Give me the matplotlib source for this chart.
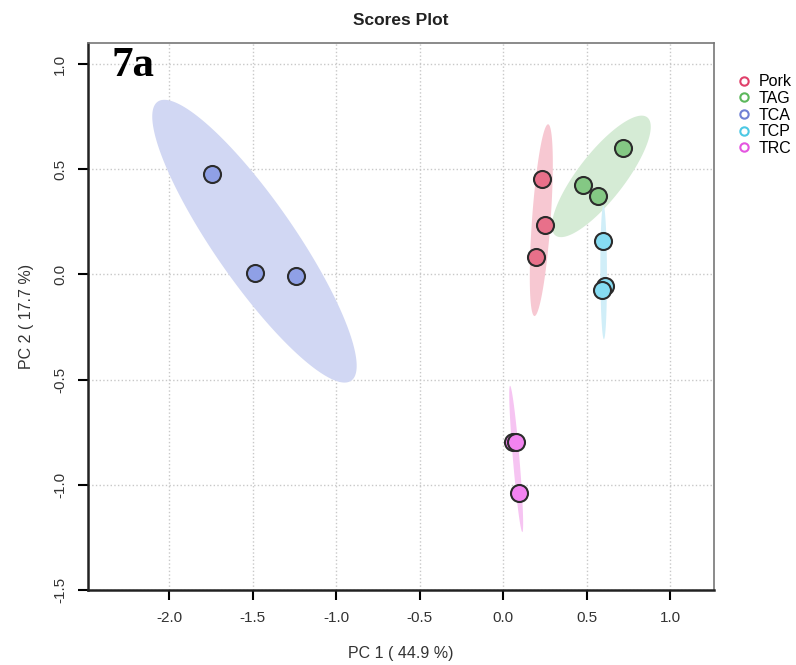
import matplotlib.pyplot as plt
import numpy as np

plt.rcParams['font.family'] = ['Liberation Sans', 'DejaVu Sans']

# Datos de los scores (PC1, PC2) por grupo
groups = ['Pork', 'TAG', 'TCA', 'TCP', 'TRC']
pc1 = {
    'Pork': [0.236, 0.253, 0.198],
    'TAG': [0.717, 0.477, 0.571],
    'TCA': [-1.740, -1.485, -1.240],
    'TCP': [0.601, 0.611, 0.595],
    'TRC': [0.062, 0.078, 0.096],
}
pc2 = {
    'Pork': [0.455, 0.234, 0.085],
    'TAG': [0.599, 0.425, 0.374],
    'TCA': [0.475, 0.005, -0.006],
    'TCP': [0.160, -0.055, -0.074],
    'TRC': [-0.795, -0.795, -1.041],
}
xticks = [-2.0, -1.5, -1.0, -0.5, 0.0, 0.5, 1.0]
yticks = [-1.5, -1.0, -0.5, 0.0, 0.5, 1.0]

point_colors = {'Pork': '#E8708A', 'TAG': '#84C884', 'TCA': '#8FA0E6',
                'TCP': '#86DCF2', 'TRC': '#F283F0'}
legend_colors = {'Pork': '#E0406A', 'TAG': '#5CB85C', 'TCA': '#6F80D4',
                 'TCP': '#4CC8E4', 'TRC': '#E455E0'}
ellipse_colors = {'Pork': '#F7C8D2', 'TAG': '#D5EBD5', 'TCA': '#D1D7F3',
                  'TCP': '#D0EEF8', 'TRC': '#F6C4F2'}

fig = plt.figure(figsize=(7.96, 6.65), dpi=100)
ax = fig.add_axes([88 / 796, 1 - 590 / 665, 626 / 796, 547 / 665])

# elipses de confianza al 95 % a partir de la covarianza de cada grupo
r = np.sqrt(-2 * np.log(0.05))
t = np.linspace(0, 2 * np.pi, 200)
for g in groups:
    pts = np.column_stack([pc1[g], pc2[g]])
    mu = pts.mean(axis=0)
    cov = np.cov(pts, rowvar=False)
    vals, vecs = np.linalg.eigh(cov)
    vals = np.clip(vals, 0, None)
    circ = np.vstack([np.cos(t), np.sin(t)])
    ell = (vecs @ np.diag(np.sqrt(vals)) @ circ) * r
    ax.fill(mu[0] + ell[0], mu[1] + ell[1], color=ellipse_colors[g], lw=0, zorder=1)

for g in groups:
    ax.scatter(pc1[g], pc2[g], s=150, color=point_colors[g], edgecolor='#2b2b2b',
               linewidth=1.5, zorder=3)

ax.set_xlim(-2.485, 1.263)
ax.set_ylim(-1.5, 1.10)
ax.set_xticks(xticks)
ax.set_yticks(yticks)
ax.set_xticklabels([f'{v:.1f}' for v in xticks])
ax.set_yticklabels([f'{v:.1f}' for v in yticks], rotation=90, va='center')
ax.tick_params(axis='both', length=7, width=1.5, labelsize=11, labelcolor='#333333',
               pad=8)
ax.grid(True, linestyle=':', color='#c8c8c8', linewidth=1)
ax.set_axisbelow(True)

for s in ['top', 'right']:
    ax.spines[s].set_color('#777777')
    ax.spines[s].set_linewidth(1.2)
for s in ['left', 'bottom']:
    ax.spines[s].set_color('#222222')
    ax.spines[s].set_linewidth(1.8)

ax.set_xlabel('PC 1 ( 44.9 %)', fontsize=11.5, color='#333333', labelpad=15)
ax.set_ylabel('PC 2 ( 17.7 %)', fontsize=11.5, color='#333333', labelpad=14)
ax.set_title('Scores Plot', fontsize=12.5, fontweight='bold', color='#222222', pad=13)

ax.text(0.038, 0.993, '7a', transform=ax.transAxes, fontsize=31, fontweight='bold',
        family='Liberation Serif', va='top', ha='left', zorder=5)

handles = [plt.Line2D([], [], marker='o', linestyle='', markersize=6,
                      markerfacecolor='none', markeredgecolor=legend_colors[g],
                      markeredgewidth=1.5) for g in groups]
fig.legend(handles, groups, loc='upper left', bbox_to_anchor=(729 / 796, 1 - 68 / 665),
           frameon=False, fontsize=11.5, handletextpad=0.35, labelspacing=0.1,
           borderaxespad=0, handlelength=1.1)

fig.savefig('out.png', dpi=100)
